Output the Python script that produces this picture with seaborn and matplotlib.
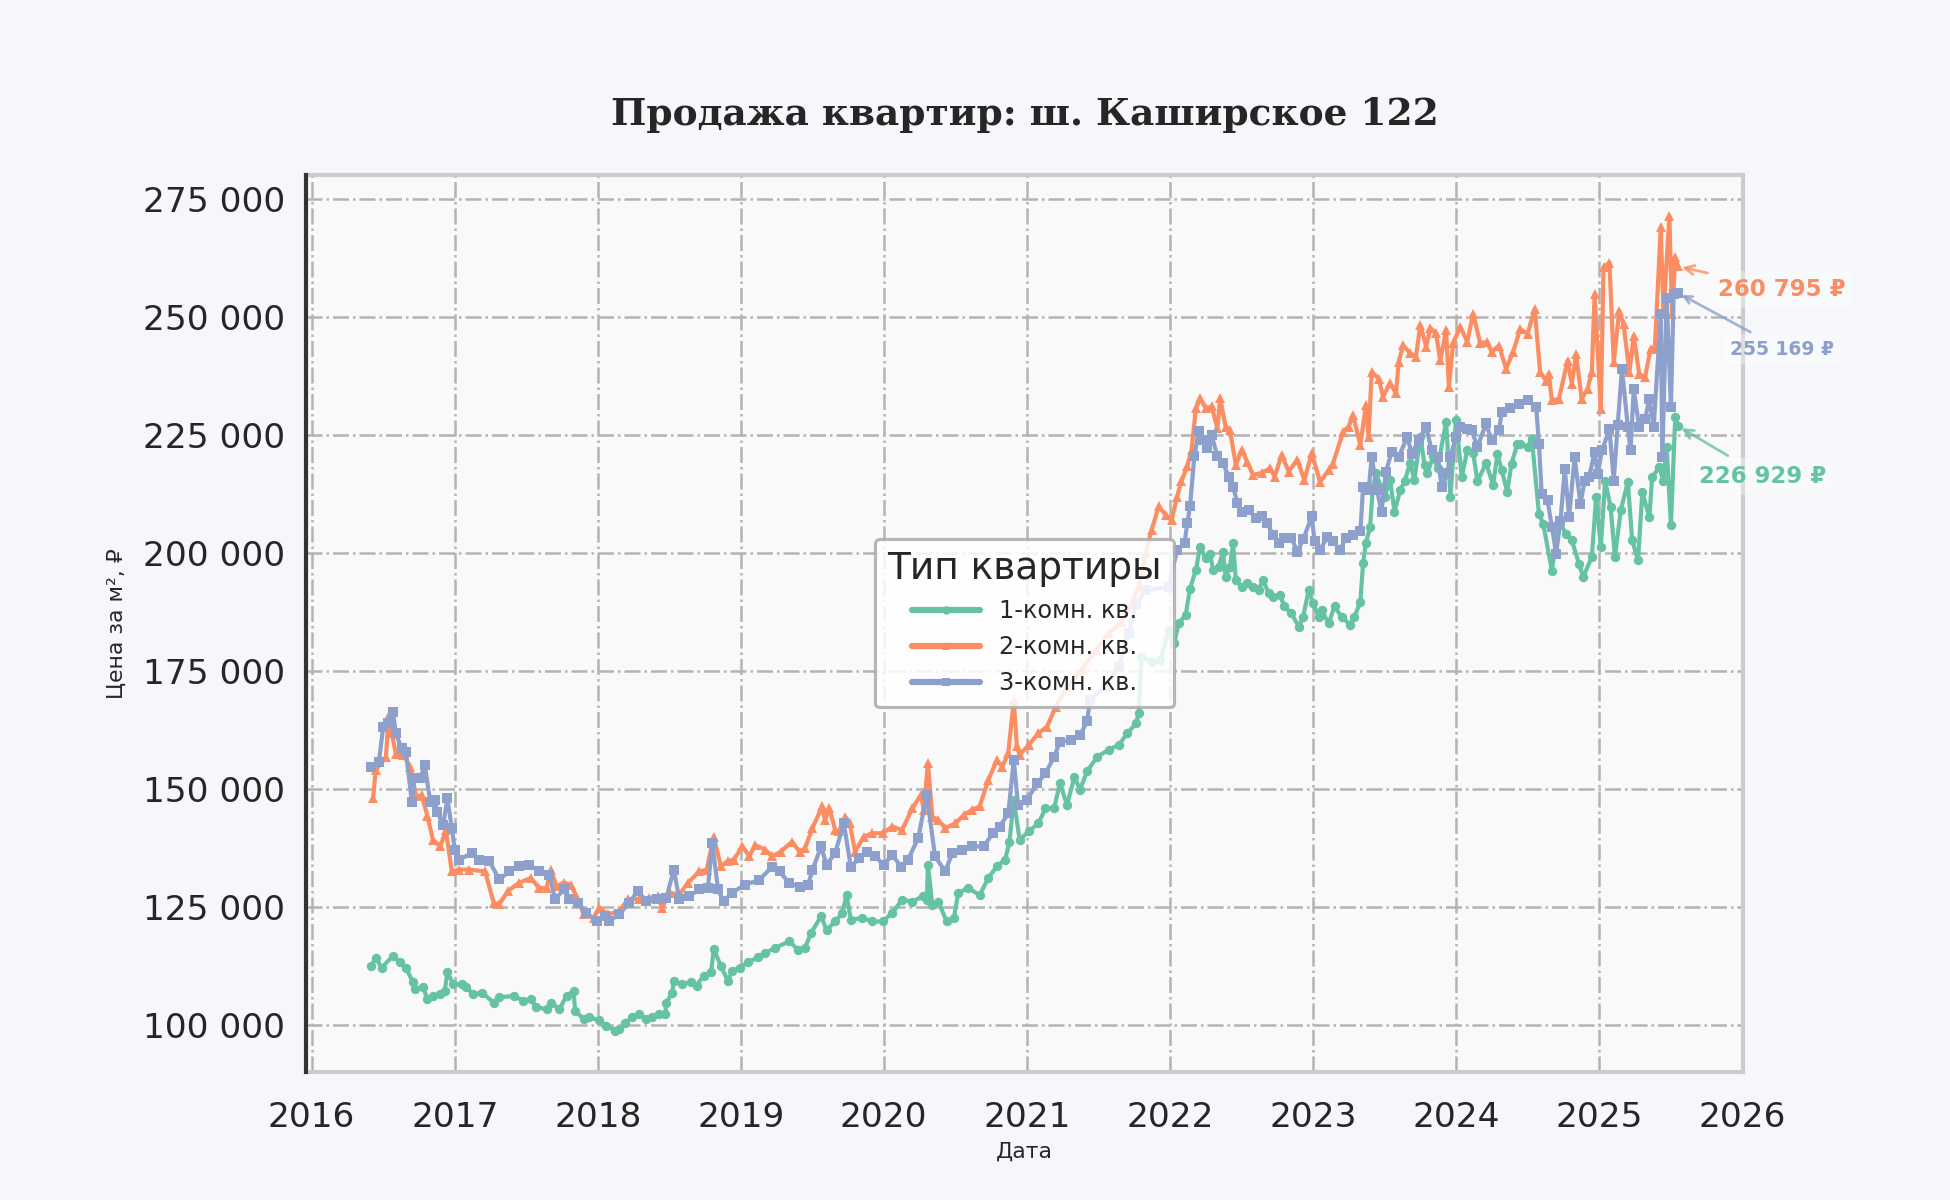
#!/usr/bin/env python3
# Продажа квартир: ш. Каширское 122 — цена за м² по типу квартиры

import matplotlib

matplotlib.use("Agg")
import matplotlib.dates as mdates  # noqa: E402
import matplotlib.pyplot as plt  # noqa: E402
import pandas as pd  # noqa: E402
import seaborn as sns  # noqa: E402
from matplotlib.ticker import FuncFormatter  # noqa: E402

OUT_PNG = "out.png"

TYPES = ["1-комн. кв.", "2-комн. кв.", "3-комн. кв."]
MARKERS = ["o", "^", "s"]

# --- Данные (дата как дробный год, цена за м2) --------------------------------
ONE_ROOM_YEARS = [
    2016.42, 2016.45, 2016.49, 2016.57, 2016.62, 2016.66, 2016.71, 2016.72, 2016.78, 2016.81,
    2016.85, 2016.90, 2016.93, 2016.95, 2016.99, 2017.05, 2017.08, 2017.13, 2017.19, 2017.27,
    2017.31, 2017.41, 2017.48, 2017.53, 2017.57, 2017.64, 2017.67, 2017.73, 2017.78, 2017.83,
    2017.84, 2017.90, 2017.94, 2018.01, 2018.06, 2018.12, 2018.15, 2018.19, 2018.24, 2018.29,
    2018.34, 2018.38, 2018.43, 2018.47, 2018.48, 2018.52, 2018.53, 2018.59, 2018.65, 2018.69,
    2018.74, 2018.79, 2018.81, 2018.86, 2018.91, 2018.94, 2018.99, 2019.05, 2019.12, 2019.17,
    2019.24, 2019.34, 2019.40, 2019.45, 2019.49, 2019.56, 2019.60, 2019.66, 2019.71, 2019.74,
    2019.77, 2019.85, 2019.92, 2019.99, 2020.06, 2020.13, 2020.20, 2020.27, 2020.30, 2020.31,
    2020.34, 2020.38, 2020.44, 2020.49, 2020.52, 2020.59, 2020.67, 2020.73, 2020.79, 2020.85,
    2020.88, 2020.91, 2020.95, 2021.01, 2021.08, 2021.13, 2021.19, 2021.23, 2021.28, 2021.33,
    2021.37, 2021.42, 2021.49, 2021.57, 2021.64, 2021.70, 2021.76, 2021.78, 2021.80, 2021.87,
    2021.93, 2021.99, 2022.03, 2022.06, 2022.11, 2022.14, 2022.18, 2022.21, 2022.25, 2022.28,
    2022.30, 2022.34, 2022.37, 2022.39, 2022.42, 2022.44, 2022.46, 2022.50, 2022.54, 2022.58,
    2022.62, 2022.65, 2022.69, 2022.72, 2022.77, 2022.80, 2022.85, 2022.90, 2022.93, 2022.97,
    2023.00, 2023.04, 2023.06, 2023.11, 2023.15, 2023.20, 2023.26, 2023.29, 2023.33, 2023.35,
    2023.37, 2023.40, 2023.42, 2023.44, 2023.48, 2023.50, 2023.54, 2023.57, 2023.61, 2023.64,
    2023.68, 2023.71, 2023.75, 2023.78, 2023.80, 2023.84, 2023.87, 2023.93, 2023.96, 2024.00,
    2024.04, 2024.08, 2024.12, 2024.15, 2024.21, 2024.26, 2024.29, 2024.32, 2024.36, 2024.39,
    2024.43, 2024.45, 2024.50, 2024.53, 2024.58, 2024.61, 2024.67, 2024.72, 2024.77, 2024.81,
    2024.86, 2024.89, 2024.95, 2024.98, 2025.01, 2025.04, 2025.08, 2025.11, 2025.15, 2025.20,
    2025.23, 2025.27, 2025.30, 2025.35, 2025.37, 2025.42, 2025.45, 2025.47, 2025.50, 2025.53,
    2025.55,
]
ONE_ROOM_PRICE = [
    112500, 114200, 112100, 114600, 113200, 112100, 109000, 107500, 107900, 105400,
    106100, 106500, 107200, 111100, 108600, 108600, 107900, 106500, 106800, 104700,
    105800, 106100, 105100, 105400, 103700, 103300, 104700, 103300, 106100, 107200,
    103000, 101200, 101600, 100900, 99800, 98700, 99000, 100400, 101600, 102300,
    101200, 101600, 102300, 102300, 104700, 106800, 109300, 108600, 109000, 108300,
    110400, 111100, 116000, 112500, 109300, 111400, 112100, 113200, 114300, 115200,
    116300, 117700, 115900, 116300, 119400, 123000, 120100, 121900, 123700, 127500,
    122300, 122600, 121900, 121900, 123700, 126500, 126100, 127200, 126500, 133900,
    125400, 126100, 121900, 122600, 127900, 129000, 127500, 131100, 133600, 135000,
    138800, 147700, 139200, 141000, 142700, 145900, 145900, 151200, 146600, 152600,
    149800, 153700, 156800, 158300, 159300, 161800, 163900, 166000, 178000, 177000,
    177300, 183700, 181000, 185100, 186900, 192500, 196400, 201400, 198900, 199900,
    196400, 197100, 200300, 195000, 197100, 202100, 194300, 192900, 193600, 192900,
    192200, 194300, 191500, 190800, 191100, 188700, 187200, 184400, 186500, 192200,
    189400, 186500, 187900, 185100, 188700, 186500, 184800, 186500, 189700, 197900,
    202100, 205600, 214100, 216900, 213800, 212000, 215500, 208800, 213400, 215200,
    219100, 215500, 224700, 218700, 216900, 220500, 218000, 227900, 212000, 228300,
    216200, 221900, 221200, 215200, 219100, 214500, 221000, 217600, 213000, 219000,
    223200, 223200, 222500, 224200, 208300, 206200, 196300, 206900, 204100, 202700,
    197800, 194900, 199200, 211900, 201300, 215400, 209800, 199200, 209100, 215100,
    202700, 198500, 212900, 207600, 216100, 218200, 215400, 222500, 205900, 228800,
    226929,
]

TWO_ROOM_YEARS = [
    2016.43, 2016.45, 2016.52, 2016.54, 2016.56, 2016.59, 2016.64, 2016.69, 2016.73, 2016.77,
    2016.81, 2016.85, 2016.90, 2016.94, 2016.98, 2017.03, 2017.10, 2017.21, 2017.27, 2017.31,
    2017.37, 2017.45, 2017.53, 2017.59, 2017.64, 2017.67, 2017.71, 2017.76, 2017.81, 2017.85,
    2017.90, 2017.97, 2018.01, 2018.07, 2018.15, 2018.21, 2018.29, 2018.36, 2018.42, 2018.45,
    2018.50, 2018.57, 2018.63, 2018.71, 2018.76, 2018.81, 2018.86, 2018.91, 2018.95, 2019.01,
    2019.06, 2019.10, 2019.17, 2019.22, 2019.28, 2019.36, 2019.41, 2019.45, 2019.50, 2019.57,
    2019.59, 2019.62, 2019.66, 2019.69, 2019.73, 2019.76, 2019.80, 2019.86, 2019.92, 2019.99,
    2020.06, 2020.13, 2020.20, 2020.26, 2020.28, 2020.31, 2020.34, 2020.38, 2020.43, 2020.50,
    2020.56, 2020.62, 2020.67, 2020.73, 2020.79, 2020.83, 2020.87, 2020.91, 2020.93, 2020.95,
    2021.01, 2021.08, 2021.14, 2021.20, 2021.28, 2021.38, 2021.48, 2021.57, 2021.66, 2021.73,
    2021.78, 2021.83, 2021.87, 2021.92, 2021.97, 2022.01, 2022.05, 2022.08, 2022.12, 2022.15,
    2022.18, 2022.21, 2022.25, 2022.29, 2022.33, 2022.35, 2022.39, 2022.42, 2022.46, 2022.50,
    2022.54, 2022.58, 2022.64, 2022.70, 2022.73, 2022.78, 2022.83, 2022.89, 2022.94, 2022.99,
    2023.05, 2023.11, 2023.14, 2023.21, 2023.25, 2023.28, 2023.33, 2023.37, 2023.39, 2023.41,
    2023.46, 2023.49, 2023.54, 2023.58, 2023.60, 2023.63, 2023.68, 2023.72, 2023.75, 2023.79,
    2023.82, 2023.86, 2023.89, 2023.93, 2023.95, 2023.98, 2024.03, 2024.08, 2024.12, 2024.17,
    2024.22, 2024.25, 2024.30, 2024.35, 2024.40, 2024.45, 2024.50, 2024.55, 2024.59, 2024.63,
    2024.65, 2024.67, 2024.72, 2024.78, 2024.81, 2024.84, 2024.88, 2024.92, 2024.95, 2024.97,
    2025.01, 2025.03, 2025.07, 2025.10, 2025.14, 2025.17, 2025.21, 2025.24, 2025.28, 2025.32,
    2025.36, 2025.39, 2025.43, 2025.45, 2025.49, 2025.51, 2025.53, 2025.55,
]
TWO_ROOM_PRICE = [
    148000, 154000, 156800, 165600, 161800, 157500, 157200, 154700, 148400, 148700,
    144200, 139200, 137800, 141300, 132500, 132900, 132900, 132500, 125900, 125500,
    128300, 130100, 131100, 129000, 129000, 132900, 129400, 130100, 129700, 127300,
    123400, 122700, 124800, 123400, 124100, 126600, 126600, 126900, 127300, 124800,
    128000, 127600, 130100, 132500, 132900, 139900, 133600, 134700, 135000, 137800,
    135700, 138100, 137100, 135700, 136700, 138800, 136700, 137400, 141700, 146300,
    143400, 145900, 141300, 141000, 144100, 142700, 136700, 139900, 140600, 140600,
    142000, 141300, 145900, 148700, 145600, 155400, 144100, 143400, 141700, 142700,
    144500, 145600, 146300, 151900, 156100, 154700, 157600, 168800, 159000, 157200,
    159300, 161800, 163200, 167400, 171700, 175200, 179400, 183000, 185400, 189300,
    192900, 200000, 204900, 209900, 208100, 207000, 212000, 215200, 218400, 221900,
    230700, 232800, 230700, 231100, 226500, 232800, 226800, 226100, 218700, 221900,
    219400, 216600, 217000, 218000, 216200, 220800, 217300, 219800, 215500, 221200,
    215100, 217600, 219000, 225700, 226800, 229300, 222900, 231400, 224700, 238500,
    237000, 233200, 236000, 233900, 240600, 244100, 242400, 241600, 248400, 243800,
    247700, 246600, 240900, 247300, 235300, 244500, 248000, 244800, 250800, 244500,
    244800, 242700, 244000, 239100, 242600, 247500, 246500, 251800, 238400, 236600,
    238000, 232400, 232700, 240800, 235900, 242200, 232700, 234800, 238400, 254900,
    230600, 260600, 261600, 240500, 251400, 248600, 238400, 246100, 238000, 237300,
    243300, 243600, 269100, 250700, 271500, 250700, 262700, 260795,
]

THREE_ROOM_YEARS = [
    2016.42, 2016.47, 2016.50, 2016.53, 2016.57, 2016.59, 2016.63, 2016.66, 2016.70, 2016.72,
    2016.76, 2016.79, 2016.83, 2016.86, 2016.88, 2016.92, 2016.95, 2016.98, 2017.00, 2017.03,
    2017.12, 2017.17, 2017.24, 2017.31, 2017.38, 2017.45, 2017.52, 2017.59, 2017.66, 2017.70,
    2017.76, 2017.80, 2017.86, 2017.92, 2017.99, 2018.05, 2018.08, 2018.15, 2018.22, 2018.28,
    2018.34, 2018.41, 2018.48, 2018.53, 2018.57, 2018.64, 2018.71, 2018.77, 2018.80, 2018.84,
    2018.88, 2018.94, 2019.03, 2019.13, 2019.22, 2019.27, 2019.34, 2019.41, 2019.47, 2019.50,
    2019.56, 2019.60, 2019.66, 2019.72, 2019.77, 2019.83, 2019.88, 2019.94, 2020.00, 2020.06,
    2020.12, 2020.17, 2020.24, 2020.30, 2020.36, 2020.43, 2020.48, 2020.55, 2020.62, 2020.70,
    2020.76, 2020.81, 2020.87, 2020.91, 2020.94, 2021.00, 2021.07, 2021.13, 2021.19, 2021.23,
    2021.31, 2021.37, 2021.42, 2021.44, 2021.55, 2021.64, 2021.71, 2021.76, 2021.83, 2021.99,
    2022.05, 2022.10, 2022.12, 2022.14, 2022.17, 2022.20, 2022.23, 2022.26, 2022.29, 2022.33,
    2022.37, 2022.41, 2022.44, 2022.47, 2022.50, 2022.55, 2022.60, 2022.64, 2022.68, 2022.72,
    2022.76, 2022.80, 2022.85, 2022.89, 2022.93, 2022.99, 2023.01, 2023.05, 2023.10, 2023.14,
    2023.19, 2023.23, 2023.28, 2023.33, 2023.35, 2023.39, 2023.41, 2023.45, 2023.48, 2023.51,
    2023.55, 2023.60, 2023.66, 2023.69, 2023.74, 2023.79, 2023.83, 2023.87, 2023.90, 2023.94,
    2023.96, 2024.00, 2024.03, 2024.08, 2024.11, 2024.15, 2024.21, 2024.25, 2024.30, 2024.32,
    2024.38, 2024.44, 2024.50, 2024.56, 2024.58, 2024.60, 2024.64, 2024.67, 2024.70, 2024.73,
    2024.76, 2024.79, 2024.83, 2024.87, 2024.90, 2024.93, 2024.97, 2024.99, 2025.02, 2025.07,
    2025.10, 2025.13, 2025.16, 2025.20, 2025.22, 2025.24, 2025.28, 2025.32, 2025.35, 2025.38,
    2025.43, 2025.44, 2025.47, 2025.50, 2025.52, 2025.55,
]
THREE_ROOM_PRICE = [
    154700, 155800, 163200, 163900, 166300, 161800, 158600, 157900, 147300, 152300,
    152300, 155100, 147300, 147700, 145200, 142400, 148000, 141700, 137100, 135000,
    136400, 135000, 134700, 130800, 132500, 133600, 133900, 132500, 131800, 126600,
    128700, 126600, 125900, 123700, 122000, 123000, 122000, 123400, 125900, 128300,
    126200, 126600, 126900, 132900, 126600, 127300, 128700, 129000, 138500, 128700,
    126200, 128000, 129700, 130700, 133500, 132500, 130000, 129300, 129700, 132800,
    137800, 133900, 136400, 142700, 133500, 135300, 136700, 135700, 133900, 136000,
    133500, 135000, 139600, 148700, 135700, 132500, 136400, 137100, 137800, 137800,
    140600, 142000, 144800, 156100, 146600, 147700, 151200, 153300, 156800, 160000,
    160400, 161400, 164300, 168800, 171700, 175900, 183000, 189300, 192100, 192900,
    200700, 202100, 206300, 209900, 220500, 225800, 224000, 222200, 225100, 220500,
    219100, 216200, 214100, 210600, 208800, 209200, 207400, 207800, 206300, 203900,
    202100, 203200, 203200, 200300, 202900, 207800, 202500, 200700, 203500, 202500,
    200700, 203200, 203900, 204600, 214100, 213300, 220400, 213300, 208700, 217200,
    221500, 220400, 224700, 221100, 223900, 226800, 221800, 220400, 214000, 216900,
    220400, 224700, 226800, 226400, 226100, 222500, 227500, 223900, 226100, 230000,
    230700, 231700, 232400, 230900, 223200, 212600, 211200, 205500, 199900, 206900,
    217900, 207600, 220300, 210500, 215400, 216100, 221400, 216800, 221800, 226300,
    215400, 227100, 239100, 226700, 221800, 234800, 226700, 228500, 232700, 226700,
    250700, 220300, 254200, 230900, 254900, 255169,
]

# Подписи последних значений: смещение текста в пунктах и размер шрифта
LAST_LABEL_OFFSETS = [(10, -24), (19, -11), (25, -27)]
LAST_LABEL_SIZES = [11, 11, 9]

PALETTE = sns.color_palette("Set2", 3)
FIG_BG = "#f5f7fa"
AX_BG = "#f9f9f9"


def year_to_date(y: float) -> pd.Timestamp:
    """Дробный год -> дата."""
    yr = int(y)
    return pd.Timestamp(year=yr, month=1, day=1) + pd.Timedelta(days=round((y - yr) * 365.25))


def build_frame() -> pd.DataFrame:
    parts = []
    for name, years, prices in zip(
        TYPES,
        [ONE_ROOM_YEARS, TWO_ROOM_YEARS, THREE_ROOM_YEARS],
        [ONE_ROOM_PRICE, TWO_ROOM_PRICE, THREE_ROOM_PRICE],
    ):
        parts.append(
            pd.DataFrame(
                {
                    "Дата": [year_to_date(y) for y in years],
                    "Цена": prices,
                    "Тип квартиры": name,
                }
            )
        )
    return pd.concat(parts, ignore_index=True)


def rub(v, _pos=None) -> str:
    return f"{v:,.0f}".replace(",", " ")


def main() -> None:
    df = build_frame()

    sns.set_theme(style="whitegrid")
    plt.rcParams["font.family"] = ["DejaVu Sans"]

    fig, ax = plt.subplots(figsize=(13, 8), dpi=150)
    fig.patch.set_facecolor(FIG_BG)
    ax.set_facecolor(AX_BG)
    fig.subplots_adjust(left=0.157, right=0.894, top=0.854, bottom=0.107)

    sns.lineplot(
        data=df,
        x="Дата",
        y="Цена",
        hue="Тип квартиры",
        style="Тип квартиры",
        hue_order=TYPES,
        style_order=TYPES,
        palette=PALETTE,
        markers=MARKERS,
        dashes=False,
        linewidth=2,
        markersize=4.5,
        markeredgewidth=0,
        ax=ax,
    )

    # Подписи последних цен со стрелками
    for i, name in enumerate(TYPES):
        sub = df[df["Тип квартиры"] == name]
        last = sub.iloc[-1]
        ax.annotate(
            f"{rub(last['Цена'])} ₽",
            xy=(last["Дата"], last["Цена"]),
            xytext=LAST_LABEL_OFFSETS[i],
            textcoords="offset points",
            ha="left",
            va="center",
            fontsize=LAST_LABEL_SIZES[i],
            fontweight="bold",
            color=PALETTE[i],
            bbox=dict(boxstyle="round,pad=0.3", fc="white", ec="none", alpha=0.35),
            arrowprops=dict(arrowstyle="->", color=PALETTE[i], lw=1.3, alpha=0.8),
        )

    ax.set_title(
        "Продажа квартир: ш. Каширское 122",
        fontsize=18,
        fontweight="bold",
        family="DejaVu Serif",
        color="#262626",
        pad=24,
    )
    ax.set_xlabel("Дата", fontsize=10.5, labelpad=4)
    ax.set_ylabel("Цена за м², ₽", fontsize=10.5, labelpad=8)

    ax.xaxis.set_major_locator(mdates.YearLocator())
    ax.xaxis.set_major_formatter(mdates.DateFormatter("%Y"))
    ax.yaxis.set_major_formatter(FuncFormatter(rub))
    ax.tick_params(axis="both", labelsize=16.5, length=0)
    ax.tick_params(axis="x", pad=14)
    ax.tick_params(axis="y", pad=10)

    ax.grid(True, linestyle="-.", color="#b3b3b3", linewidth=1.2)

    for spine in ax.spines.values():
        spine.set_visible(True)
        spine.set_color("#cccccc")
        spine.set_linewidth(2)
    ax.spines["left"].set_color("#333333")
    ax.spines["left"].set_linewidth(2)
    ax.spines["left"].set_zorder(5)

    leg = ax.legend(
        title="Тип квартиры",
        loc="center",
        fontsize=11.5,
        title_fontsize=18,
        frameon=True,
        framealpha=0.85,
        facecolor="white",
        edgecolor="#aaaaaa",
        borderpad=0.5,
        handlelength=2.8,
    )
    leg.get_frame().set_linewidth(1.5)
    for h in leg.legend_handles:
        h.set_linewidth(3)
        h.set_markersize(4)

    fig.savefig(OUT_PNG, dpi=150, facecolor=FIG_BG)
    plt.close(fig)


if __name__ == "__main__":
    main()
